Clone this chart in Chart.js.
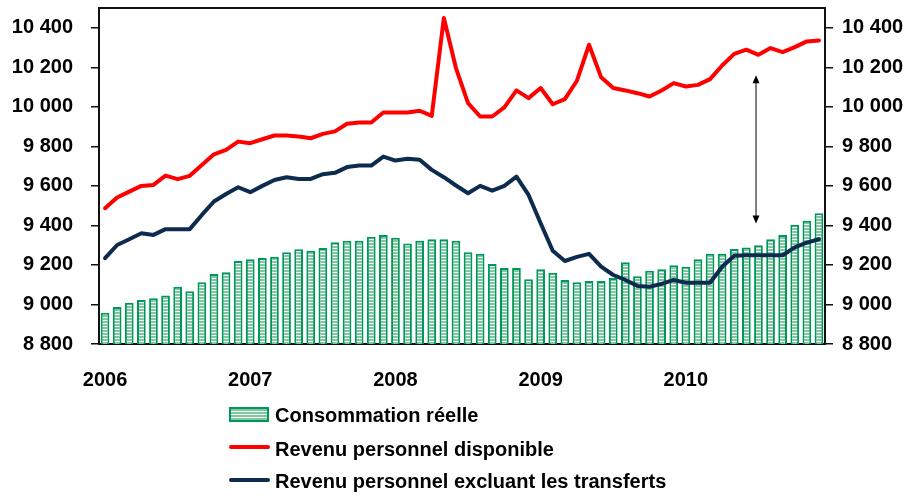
<!DOCTYPE html>
<html>
<head>
<meta charset="utf-8">
<script src="https://cdn.jsdelivr.net/npm/chart.js@4/dist/chart.umd.min.js"></script>
<style>
    body { margin: 0; background: #fff; }
    #wrap { position: relative; width: 911px; height: 496px; }
    .legend-row {
        position: absolute; left: 229px; height: 24px; line-height: 24px;
        font: bold 20px "Liberation Sans", Arial, sans-serif; color: #000; white-space: nowrap;
    }
    .legend-row span.txt { position: absolute; left: 46px; top: 0; }
    .sw-bar { position: absolute; left: 0; top: 3px; width: 36px; height: 11px; border: 2px solid #00985a;
        background: repeating-linear-gradient(to bottom, #7fc89f 0px, #7fc89f 2px, #fff 2px, #fff 3px); }
    .sw-line { position: absolute; left: 0; width: 41px; height: 4px; border-radius: 2px; }
</style>
</head>
<body>
<div id="wrap">
    <canvas id="chart" width="911" height="496"></canvas>
    <div class="legend-row" style="top:404px"><div class="sw-bar"></div><span class="txt">Consommation réelle</span></div>
    <div class="legend-row" style="top:438px"><div class="sw-line" style="top:7px;background:#ff0000"></div><span class="txt">Revenu personnel disponible</span></div>
    <div class="legend-row" style="top:470px"><div class="sw-line" style="top:8px;background:#0d2a4f"></div><span class="txt">Revenu personnel excluant les transferts</span></div>
</div>

<script>
/* DATA */

const months = [
    "2006-01","2006-02","2006-03","2006-04","2006-05","2006-06","2006-07","2006-08","2006-09","2006-10","2006-11","2006-12",
    "2007-01","2007-02","2007-03","2007-04","2007-05","2007-06","2007-07","2007-08","2007-09","2007-10","2007-11","2007-12",
    "2008-01","2008-02","2008-03","2008-04","2008-05","2008-06","2008-07","2008-08","2008-09","2008-10","2008-11","2008-12",
    "2009-01","2009-02","2009-03","2009-04","2009-05","2009-06","2009-07","2009-08","2009-09","2009-10","2009-11","2009-12",
    "2010-01","2010-02","2010-03","2010-04","2010-05","2010-06","2010-07","2010-08","2010-09","2010-10","2010-11","2010-12"
];
const yearLabels = ["2006", "2007", "2008", "2009", "2010"];
const yTicks = [8800, 9000, 9200, 9400, 9600, 9800, 10000, 10200, 10400];

const consommation = [
    8958, 8987, 9009, 9023, 9031, 9046, 9090, 9067, 9112, 9154, 9163, 9220,
    9229, 9235, 9242, 9264, 9279, 9272, 9286, 9315, 9323, 9323, 9343, 9352,
    9337, 9308, 9323, 9330, 9330, 9323, 9264, 9256, 9205, 9185, 9185, 9128,
    9178, 9161, 9124, 9112, 9119, 9119, 9134, 9214, 9143, 9170, 9178, 9198,
    9191, 9229, 9257, 9257, 9281, 9288, 9300, 9330, 9352, 9403, 9424, 9462
];
const revenuDisponible = [
    9487, 9541, 9571, 9600, 9605, 9652, 9634, 9651, 9706, 9760, 9782, 9824,
    9816, 9836, 9855, 9855, 9850, 9841, 9863, 9876, 9914, 9921, 9921, 9971,
    9971, 9971, 9980, 9954, 10449, 10196, 10019, 9951, 9951, 9997, 10083, 10044,
    10095, 10013, 10039, 10132, 10314, 10149, 10095, 10083, 10069, 10052, 10083, 10120,
    10103, 10111, 10140, 10209, 10268, 10289, 10263, 10297, 10277, 10302, 10331, 10336
];
const revenuHorsTransferts = [
    9234, 9301, 9330, 9360, 9352, 9381, 9381, 9381, 9453, 9521, 9559, 9593,
    9568, 9600, 9630, 9644, 9635, 9635, 9659, 9666, 9695, 9703, 9703, 9748,
    9728, 9737, 9732, 9681, 9644, 9602, 9563, 9600, 9576, 9600, 9647, 9554,
    9411, 9272, 9220, 9241, 9256, 9191, 9149, 9124, 9094, 9090, 9104, 9124,
    9110, 9110, 9110, 9191, 9246, 9249, 9249, 9249, 9249, 9289, 9313, 9330
];

// double arrow between the two series (x index, y from, y to)
const arrowIndex = 53.8;
const arrowFrom = 10160;
const arrowTo = 9410;

/* STYLE */

const FONT = { family: '"Liberation Sans", Arial, sans-serif', size: 20, weight: "bold" };

// striped fill for the bars
const pat = document.createElement("canvas");
pat.width = 4; pat.height = 3;
const pctx = pat.getContext("2d");
pctx.fillStyle = "#7fc89f";
pctx.fillRect(0, 0, 4, 2);
pctx.fillStyle = "#ffffff";
pctx.fillRect(0, 2, 4, 1);

const ctx = document.getElementById("chart");
const stripes = ctx.getContext("2d").createPattern(pat, "repeat");

const fmt = v => String(v).replace(/\B(?=(\d{3})+(?!\d))/g, " ");
const setTicks = s => { s.ticks = yTicks.map(v => ({ value: v })); };

/* frame top line + arrow */
const extras = {
    id: "extras",
    afterDatasetsDraw(chart) {
        const c = chart.ctx, a = chart.chartArea;
        const x = chart.scales.x, y = chart.scales.y;
        c.save();
        c.strokeStyle = "#111";
        c.lineWidth = 2;
        c.beginPath();
        c.moveTo(a.left, a.top); c.lineTo(a.right, a.top);
        c.stroke();

        const ax = x.getPixelForValue(arrowIndex);
        const y1 = y.getPixelForValue(arrowFrom), y2 = y.getPixelForValue(arrowTo);
        c.strokeStyle = "#555";
        c.lineWidth = 1.5;
        c.beginPath();
        c.moveTo(ax, y1 + 6); c.lineTo(ax, y2 - 6);
        c.stroke();
        c.fillStyle = "#000";
        c.beginPath();
        c.moveTo(ax, y1); c.lineTo(ax - 3.5, y1 + 8); c.lineTo(ax + 3.5, y1 + 8); c.closePath();
        c.moveTo(ax, y2); c.lineTo(ax - 3.5, y2 - 8); c.lineTo(ax + 3.5, y2 - 8); c.closePath();
        c.fill();
        c.restore();
    }
};

new Chart(ctx, {
    data: {
        labels: months,
        datasets: [
            {
                type: "line", label: "Revenu personnel disponible", data: revenuDisponible,
                borderColor: "#ff0000", borderWidth: 4, pointRadius: 0, tension: 0,
                borderJoinStyle: "round", borderCapStyle: "round", order: 0
            },
            {
                type: "line", label: "Revenu personnel excluant les transferts", data: revenuHorsTransferts,
                borderColor: "#0d2a4f", borderWidth: 4, pointRadius: 0, tension: 0,
                borderJoinStyle: "round", borderCapStyle: "round", order: 1
            },
            {
                type: "bar", label: "Consommation réelle", data: consommation,
                backgroundColor: stripes, borderColor: "#00985a", borderWidth: 2,
                barPercentage: 0.72, categoryPercentage: 1, order: 2
            }
        ]
    },
    options: {
        responsive: false,
        animation: false,
        layout: { padding: { top: 8, left: 0, right: 0, bottom: 0 } },
        plugins: {
            legend: { display: false },
            tooltip: { enabled: false }
        },
        scales: {
            x: {
                offset: true,
                grid: { display: false, drawTicks: false },
                border: { display: true, color: "#111", width: 2 },
                ticks: {
                    autoSkip: false, maxRotation: 0, padding: 24, color: "#000", font: FONT,
                    callback: (v, i) => i % 12 === 0 ? yearLabels[i / 12] : ""
                },
                afterFit: s => { s.height = 152; s.paddingLeft = 0; s.paddingRight = 0; }
            },
            y: {
                position: "left", min: 8800, max: 10500,
                grid: { drawOnChartArea: false, drawTicks: true, tickLength: 8, color: "#111", lineWidth: 1.5 },
                border: { display: true, color: "#111", width: 2 },
                ticks: { padding: 18, color: "#000", font: FONT, callback: fmt },
                afterBuildTicks: setTicks,
                afterFit: s => { s.width = 99; s.paddingTop = 0; s.paddingBottom = 0; }
            },
            y2: {
                position: "right", min: 8800, max: 10500,
                grid: { drawOnChartArea: false, drawTicks: true, tickLength: 8, color: "#111", lineWidth: 1.5 },
                border: { display: true, color: "#111", width: 2 },
                ticks: { padding: 9, color: "#000", font: FONT, callback: fmt },
                afterBuildTicks: setTicks,
                afterFit: s => { s.width = 86; s.paddingTop = 0; s.paddingBottom = 0; }
            }
        }
    },
    plugins: [extras]
});
</script>
</body>
</html>
